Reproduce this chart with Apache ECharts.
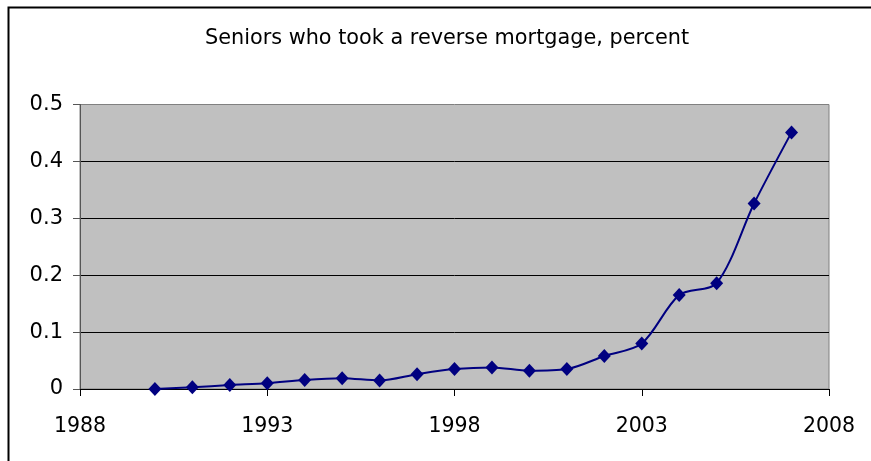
<!DOCTYPE html>
<html>
<head>
<meta charset="utf-8">
<script src="https://cdn.jsdelivr.net/npm/echarts@6/dist/echarts.min.js"></script>
<style>html,body{margin:0;padding:0;background:#fff;}#c{width:871px;height:461px;}</style>
</head>
<body>
<div id="c"></div>
<script>
const titleText = 'Seniors who took a reverse mortgage, percent';
const years = [1990,1991,1992,1993,1994,1995,1996,1997,1998,1999,2000,2001,2002,2003,2004,2005,2006,2007];
const values = [0.000,0.003,0.007,0.010,0.016,0.019,0.015,0.026,0.035,0.038,0.032,0.035,0.058,0.080,0.165,0.186,0.326,0.451];

const chart = echarts.init(document.getElementById('c'));
const font = 'Tahoma, "DejaVu Sans", sans-serif';
chart.setOption({
  animation: false,
  backgroundColor: '#fff',
  title: {
    text: titleText, left: 200, top: 23,
    textStyle: { fontFamily: font, fontSize: 20.8, fontWeight: 'normal', color: '#000' }
  },
  graphic: [{
    type: 'rect', left: 6, top: 5, z: 100,
    shape: { width: 900, height: 500 },
    style: { fill: 'none', stroke: '#000', lineWidth: 2 }
  }],
  grid: {
    left: 80, right: 42, top: 104.5, bottom: 72,
    show: true, backgroundColor: '#C0C0C0', borderColor: '#808080', borderWidth: 1
  },
  xAxis: {
    type: 'value', min: 1988, max: 2008, interval: 5,
    axisLine: { lineStyle: { color: '#000', width: 1 } },
    axisTick: { show: true, inside: false, length: 7, lineStyle: { color: '#000' } },
    axisLabel: { fontFamily: font, fontSize: 20.5, color: '#000', margin: 27, formatter: v => String(v) },
    splitLine: { show: false }
  },
  yAxis: {
    type: 'value', min: 0, max: 0.5, interval: 0.1,
    axisLine: { show: true, lineStyle: { color: '#555', width: 1 } },
    axisTick: { show: true, inside: false, length: 7, lineStyle: { color: '#555' } },
    axisLabel: { fontFamily: font, fontSize: 21, color: '#000', margin: 17 },
    splitLine: { show: true, showMaxLine: false, lineStyle: { color: '#000', width: 1 } }
  },
  series: [{
    type: 'line',
    data: years.map((y, i) => [y, values[i]]),
    smooth: 0.3,
    symbol: 'diamond', symbolSize: [13, 14],
    itemStyle: { color: '#000080' },
    lineStyle: { color: '#000080', width: 2 }
  }]
});
</script>
</body>
</html>
